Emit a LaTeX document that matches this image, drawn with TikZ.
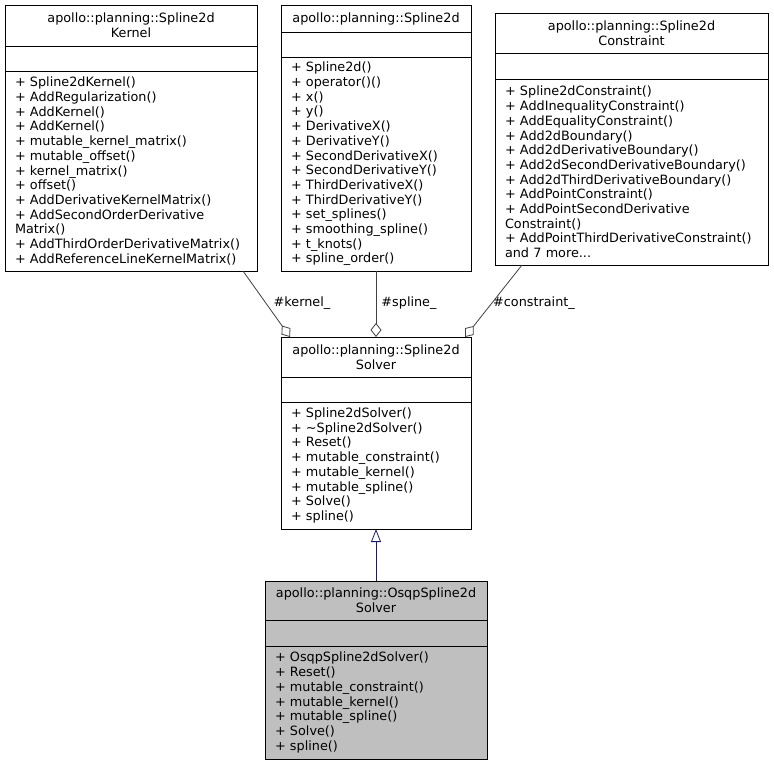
\documentclass[tikz,border=0pt]{standalone}
\usepackage{fontspec}
\setmainfont{DejaVu Sans}
\usepackage{tikz}
\usetikzlibrary{arrows.meta,positioning}

\definecolor{edgegray}{HTML}{404040}
\definecolor{basegray}{HTML}{BFBFBF}
\definecolor{inhblue}{HTML}{191970}

\begin{document}
\begin{tikzpicture}[x=1pt,y=-1pt,font=\fontsize{12.8}{14.7}\selectfont]

\tikzset{part/.style = {draw=black, line width=0.9pt, inner sep=0pt, outer sep=0pt}}
\tikzset{head/.style = {part, align=center}}
\tikzset{memb/.style = {part, inner xsep=10pt, align=left}}
\tikzset{agg/.style = {draw=edgegray, line width=0.8pt, -{Diamond[open,length=14pt,width=11pt]}}}
\tikzset{inh/.style = {draw=inhblue, line width=0.8pt, -{Triangle[open,length=13pt,width=10pt]}}}

\useasboundingbox (0,0) rectangle (774,765);

% classes
\node[head, anchor=north west, minimum width=252pt, minimum height=41pt] (kernelh) at (5,5) {apollo::planning::Spline2d\\Kernel};
\node[part, minimum width=252pt, minimum height=25pt, below=0pt of kernelh] (kernela) {};
\node[memb, text width=232pt, minimum height=200pt, below=0pt of kernela] (kernelm) {+ Spline2dKernel()\\+ AddRegularization()\\+ AddKernel()\\+ AddKernel()\\+ mutable\_kernel\_matrix()\\+ mutable\_offset()\\+ kernel\_matrix()\\+ offset()\\+ AddDerivativeKernelMatrix()\\+ AddSecondOrderDerivative\\Matrix()\\+ AddThirdOrderDerivativeMatrix()\\+ AddReferenceLineKernelMatrix()};

\node[head, anchor=north west, minimum width=190pt, minimum height=27pt] (splineh) at (281,5) {apollo::planning::Spline2d};
\node[part, minimum width=190pt, minimum height=25pt, below=0pt of splineh] (splinea) {};
\node[memb, text width=170pt, minimum height=214pt, below=0pt of splinea] (splinem) {+ Spline2d()\\+ operator()()\\+ x()\\+ y()\\+ DerivativeX()\\+ DerivativeY()\\+ SecondDerivativeX()\\+ SecondDerivativeY()\\+ ThirdDerivativeX()\\+ ThirdDerivativeY()\\+ set\_splines()\\+ smoothing\_spline()\\+ t\_knots()\\+ spline\_order()};

\node[head, anchor=north west, minimum width=273pt, minimum height=40pt] (constrh) at (495,13) {apollo::planning::Spline2d\\Constraint};
\node[part, minimum width=273pt, minimum height=26pt, below=0pt of constrh] (constra) {};
\node[memb, text width=253pt, minimum height=186pt, below=0pt of constra] (constrm) {+ Spline2dConstraint()\\+ AddInequalityConstraint()\\+ AddEqualityConstraint()\\+ Add2dBoundary()\\+ Add2dDerivativeBoundary()\\+ Add2dSecondDerivativeBoundary()\\+ Add2dThirdDerivativeBoundary()\\+ AddPointConstraint()\\+ AddPointSecondDerivative\\Constraint()\\+ AddPointThirdDerivativeConstraint()\\and 7 more...};

\node[head, anchor=north west, minimum width=190pt, minimum height=40pt] (solverh) at (281,337) {apollo::planning::Spline2d\\Solver};
\node[part, minimum width=190pt, minimum height=25pt, below=0pt of solverh] (solvera) {};
\node[memb, text width=170pt, minimum height=127pt, below=0pt of solvera] (solverm) {+ Spline2dSolver()\\+ \textasciitilde Spline2dSolver()\\+ Reset()\\+ mutable\_constraint()\\+ mutable\_kernel()\\+ mutable\_spline()\\+ Solve()\\+ spline()};

\node[head, fill=basegray, anchor=north west, minimum width=222pt, minimum height=39pt] (osqph) at (265,581) {apollo::planning::OsqpSpline2d\\Solver};
\node[part, fill=basegray, minimum width=222pt, minimum height=26pt, below=0pt of osqph] (osqpa) {};
\node[memb, fill=basegray, text width=202pt, minimum height=113pt, below=0pt of osqpa] (osqpm) {+ OsqpSpline2dSolver()\\+ Reset()\\+ mutable\_constraint()\\+ mutable\_kernel()\\+ mutable\_spline()\\+ Solve()\\+ spline()};

% labels
\node (lkernel) at (302,303) {\#kernel\_};
\node (lspline) at (409,303) {\#spline\_};
\node (lconstr) at (534,303) {\#constraint\_};

% edges
\draw[agg] ([xshift=112pt]kernelm.south) -- ([xshift=-86pt]solverh.north);
\draw[agg] (splinem.south) -- (solverh.north);
\draw[agg] ([xshift=-109.5pt]constrm.south) -- ([xshift=89pt]solverh.north);
\draw[inh] (osqph.north) -- (solverm.south);

\end{tikzpicture}
\end{document}
